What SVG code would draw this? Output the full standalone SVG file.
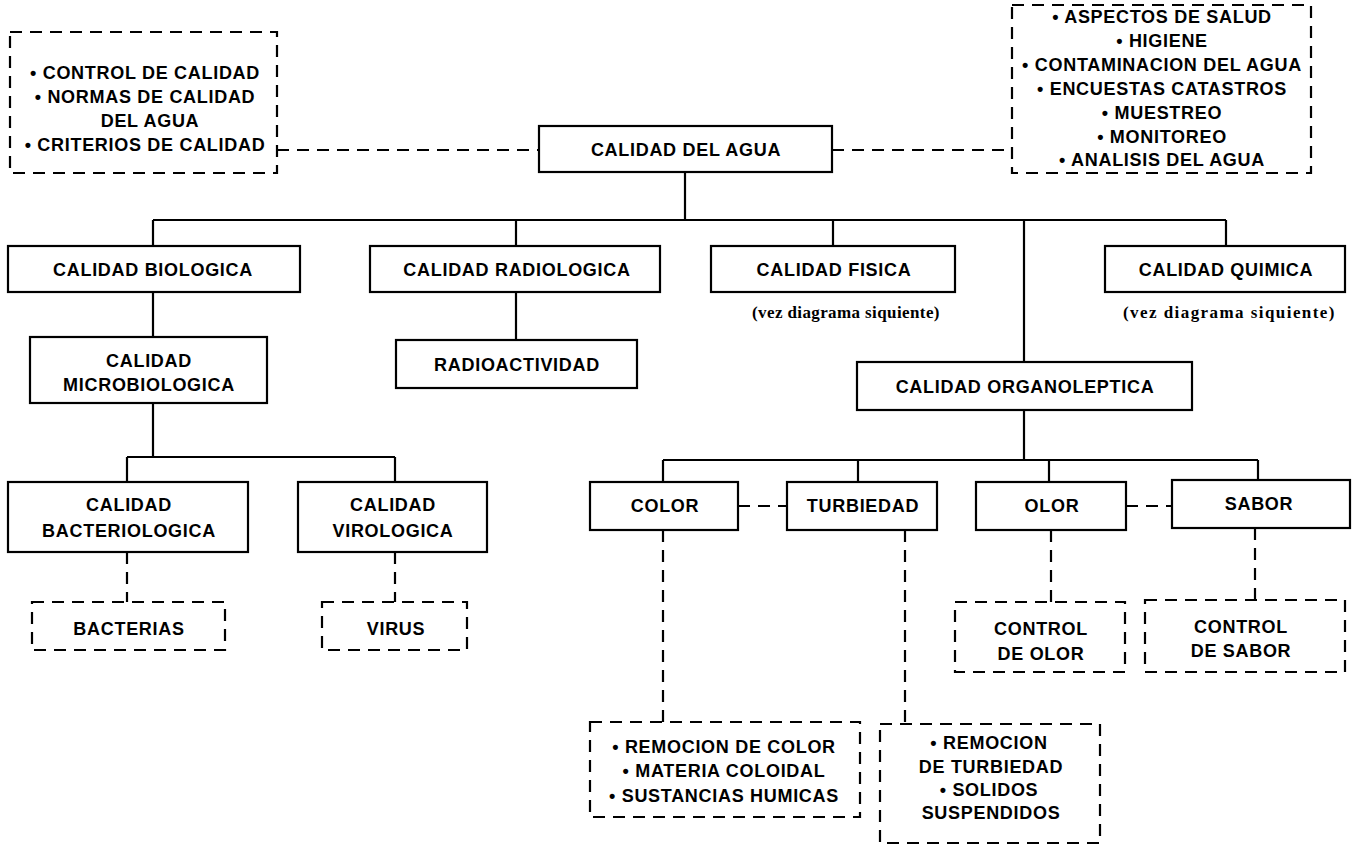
<svg xmlns="http://www.w3.org/2000/svg" width="1352" height="846" viewBox="0 0 1352 846">
<style>
.b{fill:#fff;stroke:#000;stroke-width:2.2}
.d{fill:none;stroke:#000;stroke-width:2.2;stroke-dasharray:12 8}
.l{fill:none;stroke:#000;stroke-width:2.2}
text{font-family:"Liberation Sans",Arial,sans-serif;font-weight:bold;font-size:18px;letter-spacing:0.7px;text-anchor:middle;fill:#000}
.s{font-family:"Liberation Serif","Times New Roman",serif;font-size:17px;letter-spacing:0.5px}
</style>
<rect width="1352" height="846" fill="#fff"/>
<g id="connectors">
<path class="d" d="M277 150H539M832 150H1012"/>
<path class="l" d="M685 172V220M153 220H1226M153 220V246M516 220V246M833 220V246M1226 220V246M1024 220V362"/>
<path class="l" d="M153 292V337M516 292V340M153 403V457M127 457H395M127 457V482M395 457V482"/>
<path class="d" d="M127 552V602M395 552V602"/>
<path class="l" d="M1024 410V460M663 460H1258M663 460V482M858 460V482M1049 460V482M1258 460V480"/>
<path class="d" d="M738 506H787M1126 506H1172M663 530V722M905 530V724M1051 530V602M1255 528V602"/>
</g>
<g id="n-left"><rect class="d" x="10" y="32" width="267" height="141"/>
<text x="145" y="79">• CONTROL DE CALIDAD</text><text x="145" y="103">• NORMAS DE CALIDAD</text><text x="150" y="127">DEL AGUA</text><text x="145" y="151">• CRITERIOS DE CALIDAD</text></g>
<g id="n-root"><rect class="b" x="539" y="126" width="293" height="46"/><text x="686" y="156">CALIDAD DEL AGUA</text></g>
<g id="n-right"><rect class="d" x="1012" y="5" width="299" height="168"/>
<text x="1162" y="23">• ASPECTOS DE SALUD</text><text x="1162" y="47">• HIGIENE</text><text x="1162" y="71">• CONTAMINACION DEL AGUA</text><text x="1162" y="95">• ENCUESTAS CATASTROS</text><text x="1162" y="119">• MUESTREO</text><text x="1162" y="143">• MONITOREO</text><text x="1162" y="166">• ANALISIS DEL AGUA</text></g>
<g id="n-bio"><rect class="b" x="8" y="246" width="292" height="46"/><text x="153" y="276">CALIDAD BIOLOGICA</text></g>
<g id="n-radio"><rect class="b" x="370" y="246" width="290" height="46"/><text x="517" y="276">CALIDAD RADIOLOGICA</text></g>
<g id="n-fis"><rect class="b" x="711" y="246" width="244" height="46"/><text x="834" y="276">CALIDAD FISICA</text><text class="s" x="846" y="318" textLength="188" lengthAdjust="spacing">(vez diagrama siquiente)</text></g>
<g id="n-quim"><rect class="b" x="1105" y="246" width="240" height="46"/><text x="1226" y="276">CALIDAD QUIMICA</text><text class="s" x="1229" y="318" textLength="212" lengthAdjust="spacing">(vez diagrama siquiente)</text></g>
<g id="n-micro"><rect class="b" x="30" y="337" width="237" height="66"/><text x="149" y="367">CALIDAD</text><text x="149" y="391">MICROBIOLOGICA</text></g>
<g id="n-radioact"><rect class="b" x="396" y="340" width="241" height="48"/><text x="517" y="371">RADIOACTIVIDAD</text></g>
<g id="n-organo"><rect class="b" x="857" y="362" width="335" height="48"/><text x="1025" y="393">CALIDAD ORGANOLEPTICA</text></g>
<g id="n-bact"><rect class="b" x="8" y="482" width="240" height="70"/><text x="129" y="511">CALIDAD</text><text x="129" y="537">BACTERIOLOGICA</text></g>
<g id="n-viro"><rect class="b" x="298" y="482" width="189" height="70"/><text x="393" y="511">CALIDAD</text><text x="393" y="537">VIROLOGICA</text></g>
<g id="n-bacterias"><rect class="d" x="32" y="602" width="193" height="48"/><text x="129" y="635">BACTERIAS</text></g>
<g id="n-virus"><rect class="d" x="322" y="602" width="145" height="48"/><text x="396" y="635">VIRUS</text></g>
<g id="n-color"><rect class="b" x="590" y="482" width="148" height="48"/><text x="665" y="512">COLOR</text></g>
<g id="n-turb"><rect class="b" x="787" y="482" width="150" height="48"/><text x="863" y="512">TURBIEDAD</text></g>
<g id="n-olor"><rect class="b" x="976" y="482" width="150" height="48"/><text x="1052" y="512">OLOR</text></g>
<g id="n-sabor"><rect class="b" x="1172" y="480" width="178" height="48"/><text x="1259" y="510">SABOR</text></g>
<g id="n-ctrlolor"><rect class="d" x="955" y="602" width="170" height="70"/><text x="1041" y="635">CONTROL</text><text x="1041" y="660">DE OLOR</text></g>
<g id="n-ctrlsabor"><rect class="d" x="1145" y="600" width="200" height="72"/><text x="1241" y="633">CONTROL</text><text x="1241" y="657">DE SABOR</text></g>
<g id="n-remcolor"><rect class="d" x="590" y="722" width="270" height="95"/><text x="724" y="753">• REMOCION DE COLOR</text><text x="724" y="777">• MATERIA COLOIDAL</text><text x="724" y="802">• SUSTANCIAS HUMICAS</text></g>
<g id="n-remturb"><rect class="d" x="880" y="724" width="220" height="119"/><text x="989" y="749">• REMOCION</text><text x="991" y="773">DE TURBIEDAD</text><text x="989" y="796">• SOLIDOS</text><text x="991" y="819">SUSPENDIDOS</text></g>
</svg>
